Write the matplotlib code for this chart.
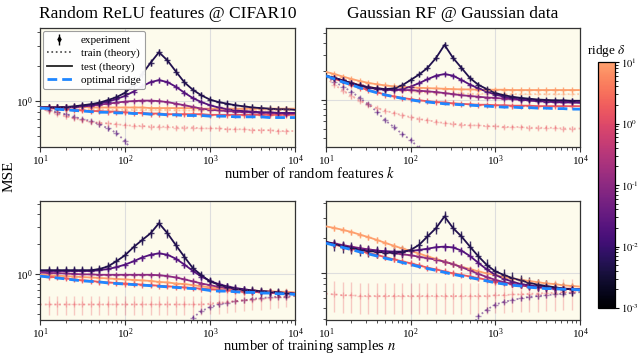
import numpy as np
import matplotlib
matplotlib.use('Agg')
import matplotlib.pyplot as plt
from matplotlib.colors import LogNorm, LinearSegmentedColormap
from matplotlib.ticker import LogLocator, NullFormatter
from matplotlib.lines import Line2D
import matplotlib.cm as cm

plt.rcParams['font.family'] = ['Liberation Serif', 'DejaVu Serif']
plt.rcParams['mathtext.fontset'] = 'stix'

# ---------------- data ----------------
sizes = [10, 12.6, 15.8, 20, 25, 31.6, 40, 50, 63, 79, 100, 126, 158, 200, 251, 316,
         398, 501, 631, 794, 1000, 1259, 1585, 1995, 2512, 3162, 3981, 5012, 6310, 7943, 10000]
ridges = [0.005, 0.02, 0.1, 1.5, 10.0]
ridge_ticks = [1e-3, 1e-2, 1e-1, 1e0, 1e1]
ridge_tick_labels = ['$10^{\\text{-}3}$', '$10^{\\text{-}2}$', '$10^{\\text{-}1}$', '$10^{0}$', '$10^{1}$']

# Random ReLU features @ CIFAR10, vs k
relu_k_test_1 = [0.88,0.88,0.88,0.89,0.90,0.92,0.94,0.97,1.02,1.08,1.18,1.38,1.70,2.15,2.65,2.25,1.80,1.45,1.25,1.12,1.03,0.98,0.95,0.92,0.90,0.88,0.87,0.86,0.85,0.85,0.84]
relu_k_test_2 = [0.88,0.88,0.88,0.88,0.89,0.90,0.92,0.95,0.99,1.04,1.11,1.21,1.34,1.46,1.52,1.46,1.33,1.18,1.06,0.98,0.92,0.88,0.85,0.83,0.82,0.81,0.80,0.80,0.79,0.79,0.79]
relu_k_test_3 = [0.88,0.88,0.88,0.88,0.89,0.90,0.91,0.93,0.95,0.97,0.99,1.00,1.01,1.01,1.00,0.98,0.95,0.92,0.89,0.86,0.84,0.83,0.82,0.81,0.80,0.80,0.79,0.79,0.79,0.78,0.78]
relu_k_test_4 = [0.88,0.87,0.86,0.85,0.84,0.83,0.82,0.82,0.81,0.81,0.80,0.79,0.79,0.78,0.78,0.77,0.77,0.77,0.77,0.77,0.76,0.76,0.76,0.76,0.76,0.76,0.76,0.76,0.76,0.76,0.76]
relu_k_test_5 = [0.89,0.89,0.89,0.89,0.89,0.89,0.88,0.88,0.88,0.88,0.88,0.88,0.88,0.87,0.87,0.87,0.87,0.87,0.87,0.86,0.86,0.86,0.86,0.86,0.86,0.86,0.86,0.86,0.86,0.86,0.86]
relu_k_opt = [0.87,0.86,0.85,0.84,0.83,0.82,0.81,0.80,0.80,0.79,0.79,0.78,0.78,0.77,0.77,0.76,0.76,0.75,0.75,0.75,0.74,0.74,0.74,0.73,0.73,0.73,0.73,0.72,0.72,0.72,0.72]
relu_k_train_3 = [0.86,0.84,0.80,0.77,0.73,0.70,0.67,0.63,0.58,0.53,0.45,0.36,0.28,0.18,0.08,0.03,0.01,0.01,0.01,0.01,0.01,0.01,0.01,0.01,0.01,0.01,0.01,0.01,0.01,0.01,0.01]
relu_k_train_4 = [0.86,0.82,0.78,0.74,0.71,0.68,0.66,0.65,0.64,0.63,0.62,0.61,0.61,0.60,0.60,0.60,0.59,0.59,0.59,0.58,0.58,0.58,0.57,0.57,0.57,0.56,0.56,0.56,0.55,0.55,0.55]
relu_k_train_5 = [0.88,0.87,0.87,0.86,0.86,0.85,0.85,0.85,0.84,0.84,0.84,0.84,0.84,0.84,0.84,0.84,0.83,0.83,0.83,0.83,0.83,0.83,0.83,0.83,0.83,0.83,0.83,0.83,0.83,0.83,0.83]

# Gaussian RF @ Gaussian data, vs k
gauss_k_test_1 = [1.79,1.70,1.60,1.50,1.42,1.36,1.32,1.30,1.32,1.42,1.62,1.85,2.17,2.77,3.79,2.77,2.17,1.70,1.44,1.30,1.18,1.12,1.08,1.05,1.03,1.01,1.00,0.99,0.99,0.98,0.98]
gauss_k_test_2 = [1.79,1.70,1.60,1.50,1.42,1.35,1.30,1.28,1.27,1.30,1.38,1.50,1.65,1.80,1.87,1.80,1.62,1.45,1.32,1.22,1.14,1.08,1.04,1.01,0.99,0.97,0.96,0.95,0.94,0.94,0.93]
gauss_k_test_3 = [1.79,1.70,1.60,1.50,1.42,1.36,1.32,1.30,1.28,1.27,1.27,1.25,1.23,1.21,1.18,1.15,1.12,1.10,1.08,1.06,1.05,1.03,1.02,1.00,0.99,0.98,0.97,0.96,0.96,0.95,0.95]
gauss_k_test_4 = [1.80,1.67,1.55,1.45,1.35,1.27,1.20,1.14,1.09,1.05,1.02,0.99,0.97,0.95,0.94,0.92,0.91,0.90,0.89,0.89,0.88,0.88,0.87,0.87,0.87,0.86,0.86,0.86,0.86,0.86,0.86]
gauss_k_test_5 = [1.97,1.87,1.76,1.66,1.58,1.51,1.46,1.42,1.39,1.37,1.36,1.34,1.33,1.32,1.31,1.30,1.29,1.29,1.28,1.28,1.28,1.28,1.27,1.27,1.27,1.27,1.27,1.27,1.27,1.27,1.27]
gauss_k_opt = [1.79,1.66,1.54,1.44,1.34,1.26,1.19,1.13,1.08,1.04,1.00,0.97,0.95,0.93,0.91,0.90,0.89,0.88,0.87,0.86,0.85,0.84,0.84,0.83,0.83,0.82,0.82,0.81,0.81,0.80,0.80]
gauss_k_train_3 = [1.75,1.55,1.38,1.22,1.05,0.90,0.75,0.61,0.52,0.44,0.38,0.31,0.25,0.18,0.10,0.05,0.02,0.01,0.01,0.01,0.01,0.01,0.01,0.01,0.01,0.01,0.01,0.01,0.01,0.01,0.01]
gauss_k_train_4 = [1.70,1.45,1.25,1.10,0.98,0.89,0.82,0.77,0.73,0.69,0.66,0.63,0.61,0.59,0.57,0.56,0.55,0.54,0.54,0.53,0.53,0.52,0.52,0.52,0.51,0.51,0.51,0.51,0.50,0.50,0.50]
gauss_k_train_5 = [1.90,1.78,1.66,1.55,1.46,1.39,1.34,1.30,1.27,1.25,1.23,1.21,1.20,1.19,1.18,1.17,1.17,1.16,1.16,1.16,1.15,1.15,1.15,1.15,1.15,1.15,1.15,1.15,1.15,1.15,1.15]

# Random ReLU features @ CIFAR10, vs n
relu_n_test_1 = [1.10,1.10,1.10,1.10,1.10,1.10,1.10,1.13,1.20,1.35,1.55,1.87,2.19,2.57,3.24,2.57,1.95,1.49,1.15,0.98,0.85,0.79,0.75,0.72,0.70,0.69,0.68,0.67,0.66,0.65,0.64]
relu_n_test_2 = [1.08,1.08,1.08,1.08,1.08,1.08,1.08,1.10,1.13,1.18,1.25,1.35,1.47,1.57,1.62,1.57,1.43,1.25,1.08,0.95,0.86,0.80,0.76,0.73,0.71,0.69,0.68,0.67,0.66,0.65,0.64]
relu_n_test_3 = [1.04,1.03,1.03,1.02,1.01,1.00,1.00,0.99,0.99,0.99,0.99,0.99,0.99,0.99,0.98,0.96,0.93,0.89,0.85,0.81,0.78,0.75,0.73,0.71,0.70,0.68,0.67,0.66,0.65,0.65,0.64]
relu_n_test_4 = [0.97,0.95,0.93,0.91,0.89,0.87,0.86,0.84,0.83,0.82,0.81,0.80,0.79,0.78,0.77,0.76,0.75,0.74,0.73,0.72,0.71,0.70,0.69,0.68,0.67,0.67,0.66,0.66,0.65,0.65,0.64]
relu_n_test_5 = [0.99,0.98,0.97,0.96,0.95,0.94,0.93,0.92,0.91,0.90,0.89,0.88,0.87,0.86,0.84,0.83,0.81,0.80,0.78,0.76,0.74,0.73,0.72,0.71,0.70,0.69,0.68,0.68,0.67,0.67,0.66]
relu_n_opt = [0.96,0.94,0.92,0.90,0.88,0.86,0.85,0.84,0.82,0.81,0.80,0.79,0.78,0.77,0.76,0.75,0.74,0.73,0.72,0.71,0.69,0.68,0.68,0.67,0.66,0.66,0.65,0.65,0.64,0.64,0.63]
relu_n_train_3 = [0.01,0.01,0.01,0.01,0.01,0.01,0.01,0.01,0.01,0.01,0.01,0.01,0.01,0.03,0.06,0.10,0.20,0.28,0.37,0.43,0.47,0.50,0.52,0.54,0.55,0.57,0.58,0.59,0.60,0.60,0.61]
relu_n_train_4 = [0.50,0.50,0.50,0.50,0.50,0.50,0.50,0.50,0.50,0.50,0.50,0.50,0.50,0.50,0.50,0.50,0.50,0.50,0.50,0.50,0.51,0.52,0.53,0.54,0.55,0.56,0.57,0.58,0.59,0.60,0.61]

# Gaussian RF @ Gaussian data, vs n
gauss_n_test_1 = [1.85,1.77,1.70,1.64,1.59,1.55,1.52,1.50,1.50,1.52,1.58,1.75,2.07,2.45,3.09,2.45,2.07,1.69,1.39,1.17,1.03,0.96,0.90,0.86,0.82,0.79,0.77,0.75,0.73,0.72,0.71]
gauss_n_test_2 = [1.85,1.78,1.72,1.66,1.62,1.58,1.56,1.54,1.53,1.53,1.55,1.58,1.62,1.67,1.69,1.66,1.56,1.40,1.22,1.07,0.96,0.89,0.84,0.80,0.78,0.76,0.75,0.74,0.73,0.72,0.72]
gauss_n_test_3 = [1.85,1.80,1.74,1.69,1.64,1.60,1.56,1.52,1.48,1.45,1.42,1.38,1.34,1.30,1.25,1.19,1.12,1.05,0.98,0.92,0.87,0.83,0.80,0.78,0.76,0.75,0.74,0.73,0.73,0.72,0.72]
gauss_n_test_4 = [1.84,1.76,1.69,1.62,1.55,1.49,1.43,1.37,1.31,1.26,1.21,1.16,1.11,1.07,1.03,0.99,0.96,0.93,0.90,0.87,0.84,0.82,0.80,0.78,0.77,0.76,0.75,0.74,0.73,0.73,0.72]
gauss_n_test_5 = [2.53,2.45,2.36,2.26,2.15,2.04,1.93,1.82,1.72,1.63,1.55,1.47,1.39,1.32,1.25,1.19,1.13,1.08,1.03,0.99,0.96,0.92,0.89,0.87,0.85,0.83,0.81,0.80,0.78,0.77,0.76]
gauss_n_opt = [1.81,1.73,1.66,1.59,1.52,1.46,1.40,1.34,1.29,1.23,1.18,1.13,1.09,1.05,1.01,0.97,0.94,0.91,0.88,0.85,0.82,0.80,0.78,0.77,0.75,0.74,0.73,0.73,0.72,0.72,0.71]
gauss_n_train_3 = [0.01,0.01,0.01,0.01,0.01,0.01,0.01,0.01,0.01,0.01,0.01,0.01,0.01,0.01,0.02,0.05,0.20,0.32,0.42,0.48,0.53,0.56,0.58,0.60,0.62,0.63,0.64,0.65,0.66,0.67,0.68]
gauss_n_train_4 = [0.66,0.65,0.64,0.64,0.63,0.63,0.63,0.63,0.63,0.63,0.63,0.63,0.63,0.63,0.63,0.63,0.63,0.63,0.63,0.63,0.64,0.64,0.65,0.65,0.66,0.66,0.67,0.67,0.68,0.68,0.69]

# relative experimental error bars per ridge (test), and for the train curves
relu_k_err = [0.07, 0.05, 0.04, 0.03, 0.03]
gauss_k_err = [0.06, 0.05, 0.04, 0.03, 0.03]
relu_n_err = [0.10, 0.07, 0.05, 0.04, 0.04]
gauss_n_err = [0.12, 0.08, 0.06, 0.05, 0.05]
train_err = {'relu_k': 0.05, 'gauss_k': 0.06, 'relu_n': 0.22, 'gauss_n': 0.30}

titles = ['Random ReLU features @ CIFAR10', 'Gaussian RF @ Gaussian data']
xlabels = ['number of random features $k$', 'number of training samples $n$']

# ---------------- style ----------------
base = plt.get_cmap('magma')
cmap = LinearSegmentedColormap.from_list('magma_tr', base(np.linspace(0.0, 0.8, 256)))
norm = LogNorm(vmin=ridge_ticks[0], vmax=ridge_ticks[-1])
colors = [cmap(norm(r)) for r in ridges]
BLUE = '#1f86ff'
FACE = '#fdfbec'

fig = plt.figure(figsize=(6.4, 3.55), dpi=100)
W, H = 640, 355
def rect(x0, y0, x1, y1):
    return [x0 / W, 1 - y1 / H, (x1 - x0) / W, (y1 - y0) / H]

ax_tl = fig.add_axes(rect(40, 28, 295, 147))
ax_tr = fig.add_axes(rect(326, 28, 580, 147))
ax_bl = fig.add_axes(rect(40, 201, 295, 320))
ax_br = fig.add_axes(rect(326, 201, 580, 320))
cax = fig.add_axes(rect(598, 62, 615, 308))

panels = [
    (ax_tl, [relu_k_test_1, relu_k_test_2, relu_k_test_3, relu_k_test_4, relu_k_test_5], relu_k_opt,
     [(2, relu_k_train_3), (3, relu_k_train_4), (4, relu_k_train_5)], relu_k_err, train_err['relu_k'], (0.40, 4.3)),
    (ax_tr, [gauss_k_test_1, gauss_k_test_2, gauss_k_test_3, gauss_k_test_4, gauss_k_test_5], gauss_k_opt,
     [(2, gauss_k_train_3), (3, gauss_k_train_4), (4, gauss_k_train_5)], gauss_k_err, train_err['gauss_k'], (0.32, 5.7)),
    (ax_bl, [relu_n_test_1, relu_n_test_2, relu_n_test_3, relu_n_test_4, relu_n_test_5], relu_n_opt,
     [(2, relu_n_train_3), (3, relu_n_train_4)], relu_n_err, train_err['relu_n'], (0.35, 5.4)),
    (ax_br, [gauss_n_test_1, gauss_n_test_2, gauss_n_test_3, gauss_n_test_4, gauss_n_test_5], gauss_n_opt,
     [(2, gauss_n_train_3), (3, gauss_n_train_4)], gauss_n_err, train_err['gauss_n'], (0.39, 4.2)),
]

x = np.array(sizes)
for ax, tests, opt, trains, errs, terr, ylim in panels:
    ax.set_facecolor(FACE)
    ax.set_xscale('log')
    ax.set_yscale('log')
    ax.set_xlim(sizes[0], sizes[-1])
    ax.set_ylim(*ylim)
    ax.grid(True, which='major', color='#dedede', lw=0.8)
    ax.set_axisbelow(True)
    for j, tr in trains:
        y = np.array(tr)
        if j == 2:
            c, la, pa, e = colors[1], 0.55, 0.45, 0.05
        elif j == 3:
            c, la, pa, e = colors[3], 0.45, 0.3, terr
        else:
            c, la, pa, e = colors[4], 0.5, 0.3, 0.03
        ax.plot(x, y, ':', color=c, lw=1.3, alpha=la, zorder=2)
        ax.errorbar(x[1:-1], y[1:-1], yerr=e * y[1:-1], fmt='+', color=c,
                    ms=4, mew=1, elinewidth=1, alpha=pa, zorder=2)
    for j in range(len(tests) - 1, -1, -1):
        y = np.array(tests[j])
        ax.plot(x, y, '-', color=colors[j], lw=1.3, zorder=3)
        ax.errorbar(x[1:-1], y[1:-1], yerr=errs[j] * y[1:-1], fmt='+', color=colors[j],
                    ms=4, mew=1, elinewidth=1, alpha=0.85, zorder=3)
    ax.plot(x, opt, '--', color=BLUE, lw=2, dashes=(3.5, 1.8), zorder=6)
    ax.yaxis.set_major_locator(LogLocator(base=10, numticks=10))
    ax.yaxis.set_minor_locator(LogLocator(base=10, subs=np.arange(2, 10), numticks=20))
    ax.yaxis.set_minor_formatter(NullFormatter())
    ax.xaxis.set_major_locator(LogLocator(base=10, numticks=10))
    ax.xaxis.set_minor_locator(LogLocator(base=10, subs=np.arange(2, 10), numticks=20))
    ax.xaxis.set_minor_formatter(NullFormatter())
    ax.tick_params(which='major', length=3.5, width=0.8, labelsize=8, pad=1.5, color='#333333')
    ax.tick_params(axis='x', which='major', pad=1)
    ax.tick_params(which='minor', length=2, width=0.6, color='#333333')
    for s in ax.spines.values():
        s.set_color('#333333')
        s.set_linewidth(0.9)

for ax in (ax_tr, ax_br):
    ax.set_yticklabels([])

ax_tl.set_title(titles[0], fontsize=12.5, pad=7)
ax_tr.set_title(titles[1], fontsize=12.5, pad=7)
fig.text(310 / W, 1 - 178 / H, xlabels[0], ha='center', va='baseline', fontsize=10.5)
fig.text(310 / W, 1 - 350 / H, xlabels[1], ha='center', va='baseline', fontsize=10.5)
fig.text(9 / W, 1 - 176 / H, 'MSE', rotation=90, ha='center', va='center', fontsize=11)

# legend
h_exp = ax_tl.errorbar([np.nan], [np.nan], yerr=[0.1], fmt='d', color='k', ms=2.5, elinewidth=1)
h_train = Line2D([], [], ls=':', color='#444444', lw=1.2)
h_test = Line2D([], [], ls='-', color='#222222', lw=1.3)
h_opt = Line2D([], [], ls='--', color=BLUE, lw=2, dashes=(3.5, 1.8))
leg = ax_tl.legend([h_exp, h_train, h_test, h_opt],
                   ['experiment', 'train (theory)', 'test (theory)', 'optimal ridge'],
                   loc='upper left', fontsize=8, borderaxespad=0.25, handlelength=2.2,
                   labelspacing=0.3, borderpad=0.4, framealpha=0.95, edgecolor='#999999',
                   fancybox=True)
leg.get_frame().set_linewidth(0.8)
leg.set_zorder(10)

# colorbar
cb = fig.colorbar(cm.ScalarMappable(norm=norm, cmap=cmap), cax=cax)
cb.set_ticks(ridge_ticks)
cb.set_ticklabels(ridge_tick_labels)
cb.ax.tick_params(labelsize=7.5, length=3, width=0.8, pad=1)
cb.ax.tick_params(which='minor', length=1.8, width=0.6)
cb.outline.set_linewidth(0.9)
cax.set_title('ridge $\\delta$', fontsize=9.5, pad=6)

fig.savefig('out.png', dpi=100)
